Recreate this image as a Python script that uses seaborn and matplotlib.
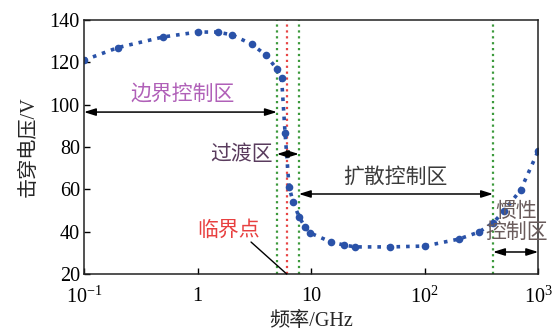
import matplotlib
matplotlib.use("Agg")
import matplotlib.pyplot as plt
import seaborn as sns
import pandas as pd
from matplotlib.ticker import FixedLocator, NullLocator, FixedFormatter

# ---- data ----
freq = [0.1, 0.2, 0.5, 1, 1.5, 2, 3, 4, 5, 5.5, 5.9, 6.4, 6.95, 7.85, 8.85, 9.8,
        15, 19.5, 24.5, 50, 100, 200, 300, 400, 500, 700, 1000]
volt = [121, 127, 132, 134.3, 134.3, 133, 128.6, 123.4, 116.8, 112.6, 86.6, 61.1,
        54, 46.9, 42.2, 39.4, 35.1, 33.7, 32.8, 32.8, 33.2, 36.5, 39.8, 44.1, 49.8,
        59.7, 78.1]
xticks = [0.1, 1, 10, 100, 1000]
xticklabels = ["$10^{-1}$", "1", "10", "$10^{2}$", "$10^{3}$"]
yticks = [20, 40, 60, 80, 100, 120, 140]
green_lines = [5.0, 7.8, 400]
red_line = 6.15

sns.set_style("ticks")
plt.rcParams["font.family"] = ["Liberation Serif", "Noto Sans CJK SC", "DejaVu Sans"]
plt.rcParams["mathtext.fontset"] = "custom"
plt.rcParams["mathtext.rm"] = "Liberation Serif"
plt.rcParams["mathtext.it"] = "Liberation Serif:italic"

fig = plt.figure(figsize=(5.56, 3.36), dpi=100)
ax = fig.add_axes([0.151, 0.1845, 0.817, 0.756])

df = pd.DataFrame({"freq": freq, "volt": volt})
blue = "#2a52a8"
sns.lineplot(data=df, x="freq", y="volt", ax=ax, color=blue, linestyle=":",
             linewidth=2.6, marker="o", markersize=5.5, markeredgewidth=0,
             markerfacecolor=blue)

for g in green_lines:
    ax.axvline(g, color="#3c9a3c", linestyle=":", linewidth=1.6, zorder=1)
ax.axvline(red_line, color="#e84545", linestyle=":", linewidth=1.6, zorder=1)

ax.set_xscale("log")
ax.set_xlim(0.1, 1000)
ax.set_ylim(20, 140)
ax.xaxis.set_major_locator(FixedLocator(xticks))
ax.xaxis.set_major_formatter(FixedFormatter(xticklabels))
ax.xaxis.set_minor_locator(NullLocator())
ax.set_yticks(yticks)
ax.tick_params(direction="in", length=4, width=1, labelsize=14.5, colors="black")
ax.tick_params(axis="x", pad=9)
ax.tick_params(axis="y", pad=3)
for s in ax.spines.values():
    s.set_visible(True)
    s.set_linewidth(1.1)
    s.set_color("#222222")

ax.set_xlabel("频率/GHz", fontsize=14.5, labelpad=3)
ax.set_ylabel("击穿电压/V", fontsize=14.5, labelpad=8)

arrow_kw = dict(arrowstyle="<|-|>,head_length=0.7,head_width=0.22",
                color="black", lw=1.1, shrinkA=0, shrinkB=0)

# boundary control region
ax.annotate("", xy=(0.1, 96.5), xytext=(5.0, 96.5), arrowprops=arrow_kw)
ax.text(0.745, 104.6, "边界控制区", color="#b060b8", fontsize=15,
        ha="center", va="center")
# transition region
ax.annotate("", xy=(5.0, 76.7), xytext=(7.8, 76.7), arrowprops=arrow_kw)
ax.text(4.6, 76.2, "过渡区", color="#5a3c5e", fontsize=15, ha="right", va="center")
# diffusion control region
ax.annotate("", xy=(7.8, 57.8), xytext=(400, 57.8), arrowprops=arrow_kw)
ax.text(55, 65.3, "扩散控制区", color="#3a3a3a", fontsize=15, ha="center", va="center")
# inertia control region
ax.annotate("", xy=(400, 30.4), xytext=(1000, 30.4), arrowprops=arrow_kw)
ax.text(640, 44.1, "惯性\n控制区", color="#6a5c5c", fontsize=15, ha="center",
        va="center", linespacing=1.05, multialignment="center")
# critical point
ax.plot([2.96, 6.1], [35.1, 20], color="black", lw=1.0, zorder=3, clip_on=False)
ax.text(1.86, 40.3, "临界点", color="#e84040", fontsize=15, ha="center", va="center")

fig.savefig("out.png", dpi=100)
